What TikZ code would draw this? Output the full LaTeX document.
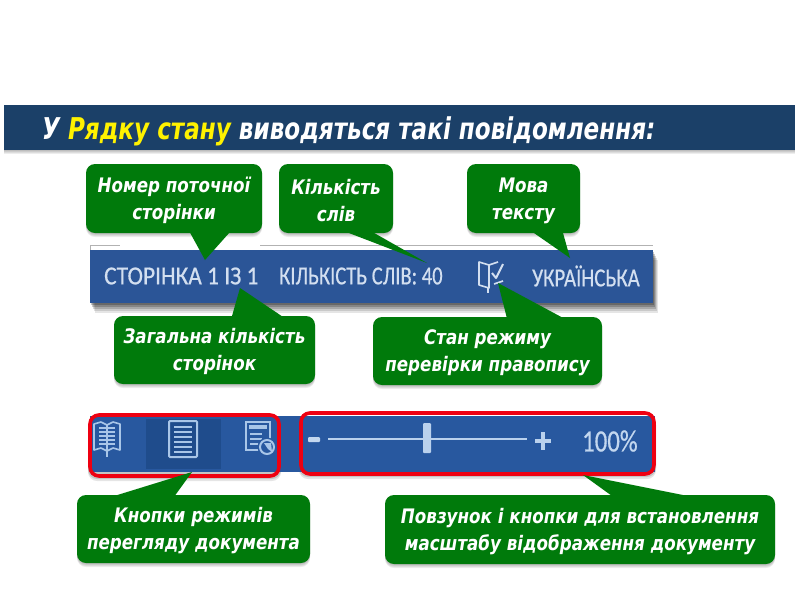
\documentclass[tikz,border=0pt]{standalone}
\usepackage{fontspec}
\setmainfont{DejaVu Sans}
\newfontfamily\callfont[FakeStretch=0.836]{DejaVu Sans}
\newfontfamily\titlefont[FakeStretch=0.77]{DejaVu Sans}
\newfontfamily\barfont[FakeBold=0.6]{Carlito}
\usetikzlibrary{calc}
\definecolor{titlebar}{HTML}{1B4068}
\definecolor{barblue}{HTML}{2B5597}
\definecolor{barblueb}{HTML}{28589F}
\definecolor{bardark}{HTML}{1F4C8C}
\definecolor{callgreen}{HTML}{007A0B}
\definecolor{barlight}{HTML}{D3DFF0}
\definecolor{iconlight}{HTML}{A9C6E8}
\definecolor{markred}{HTML}{EE0011}
\tikzset{
  softshadow/.style={
    preaction={fill=black,fill opacity=.07,transform canvas={yshift=-1pt}},
    preaction={fill=black,fill opacity=.07,transform canvas={yshift=-2pt}},
    preaction={fill=black,fill opacity=.07,transform canvas={yshift=-3pt}},
    preaction={fill=black,fill opacity=.07,transform canvas={yshift=-4pt}}},
  deepshadow/.style={
    preaction={fill=black,fill opacity=.10,transform canvas={xshift=5pt,yshift=-10pt}},
    preaction={fill=black,fill opacity=.12,transform canvas={xshift=4pt,yshift=-8pt}},
    preaction={fill=black,fill opacity=.16,transform canvas={xshift=3pt,yshift=-6pt}},
    preaction={fill=black,fill opacity=.20,transform canvas={xshift=2pt,yshift=-4pt}},
    preaction={fill=black,fill opacity=.22,transform canvas={xshift=1pt,yshift=-2pt}}},
  callbox/.style={rectangle,rounded corners=9pt,fill=callgreen,text=white,align=center,
    inner sep=0pt,font=\callfont\fontsize{20}{27}\selectfont\bfseries\itshape,softshadow},
  calltail/.style={fill=callgreen},
  barlabel/.style={text=barlight,font=\barfont\fontsize{26}{28}\selectfont,inner sep=0pt,anchor=west},
  redmark/.style={draw=markred,line width=3.6pt,rounded corners=9pt},
  iconline/.style={draw=iconlight,line width=1.6pt},
}
\newcommand{\callout}[7]{% name, x0,y0,x1,y1, tip-name, text
  \node[callbox,minimum width=#4pt-#2pt,minimum height=#5pt-#3pt] (#1) at ({(#2+#4)/2},{(#3+#5)/2}) {\rule{0pt}{19pt}#7};
}
\begin{document}
\begin{tikzpicture}[x=1pt,y=-1pt]
\useasboundingbox (0,0) rectangle (800,600);
\fill[white] (0,0) rectangle (800,600);
% title
\node[rectangle,fill=titlebar,minimum width=791pt,minimum height=45pt,inner sep=0pt,softshadow] (title) at (399.5,127.5) {};
\node[anchor=base west,inner sep=0pt,text=white,font=\titlefont\fontsize{30}{31}\selectfont\bfseries\itshape] (titletext) at (42,139)
  {У \textcolor{yellow}{Рядку стану} виводяться такі повідомлення:};
% upper status bar
\draw[gray!60,line width=.8pt] (90,250) -- (90,245) -- (120,245) (260,245) -- (653,245);
\node[rectangle,fill=barblue,minimum width=563pt,minimum height=53pt,inner sep=0pt,deepshadow] (bar1) at (371.5,276.5) {};
\node[barlabel] (pg) at (104,276) {\scalebox{.9}[1]{СТОРІНКА 1 ІЗ 1}};
\node[barlabel] (wc) at (279,276) {\scalebox{.79}[1]{КІЛЬКІСТЬ СЛІВ: 40}};
\node[barlabel] (lg) at (532,276) {\scalebox{.8}[1]{УКРАЇНСЬКА}};
% spell icon
\draw[barlight,line width=1.6pt,line join=round] (489,265) -- (479,262) -- (479,285) -- (489,288) -- (489,265) -- (498,262);
\draw[barlight,line width=1.6pt,line join=round] (488,288) -- (488,293);
\draw[barlight,line width=2pt,line join=round] (492,273) -- (496,278) -- (503,264);
\draw[barlight,line width=1.6pt] (494,284) -- (503,281);
% lower status bar
\fill[black,fill opacity=.10,rounded corners=9pt] (88,418) rectangle (281,481);
\fill[black,fill opacity=.14,rounded corners=9pt] (88,418) rectangle (281,479);
\fill[black,fill opacity=.10,rounded corners=9pt] (299,416) rectangle (656,479);
\fill[black,fill opacity=.14,rounded corners=9pt] (299,416) rectangle (656,477);
\node[rectangle,fill=barblueb,minimum width=565pt,minimum height=56pt,inner sep=0pt] (bar2) at (372.5,444) {};
\fill[bardark] (146,419) rectangle (221,469);
% book icon
\draw[iconline,line join=round] (107,425) -- (101,422) -- (94,424) -- (94,450) -- (101,448) -- (107,451) -- (113,448) -- (120,450) -- (120,424) -- (113,422) -- cycle;
\draw[iconline] (107,425) -- (107,457);
\foreach \yy in {428,432,436,440,444}{\draw[iconline,line width=1.3pt] (99,\yy) -- (115,\yy);}
% page icon
\draw[iconline,rounded corners=1pt,line width=2pt] (169,421) rectangle (197,457);
\foreach \yy in {427,432,437,442,447,452}{\draw[iconline,line width=1.4pt] (174,\yy) -- (192,\yy);}
% web icon
\draw[iconline] (246,422) rectangle (270,450);
\fill[iconlight] (249,425) rectangle (267,429);
\foreach \yy in {434,439,444}{\draw[iconline,line width=1.3pt] (250,\yy) -- (262,\yy);}
\fill[barblueb] (267,447) circle (9.5);
\draw[iconlight,line width=2pt] (267,447) circle (7);
\fill[iconlight] (264,443) -- (271,443) -- (272,452) -- (268,449) -- cycle;
% slider
\fill[iconlight!70!white,rounded corners=1pt] (308,437) rectangle (320,442);
\draw[iconlight!80!white,line width=2pt] (328,438.5) -- (527,438.5);
\fill[iconlight!80!white,rounded corners=1pt] (423,423) rectangle (431,453);
\draw[iconlight!80!white,line width=4pt] (535,441) -- (551,441) (543,432) -- (543,450);
\node[text=iconlight!70!white,inner sep=0pt,anchor=west,font=\barfont\fontsize{31}{32}\selectfont] (zoomv) at (582,441) {\scalebox{.8}[1]{100\%}};
% red frames
\node[rectangle,redmark,minimum width=189pt,minimum height=61pt,inner sep=0pt] (frameA) at (184.5,445.5) {};
\node[rectangle,redmark,minimum width=353pt,minimum height=61pt,inner sep=0pt] (frameB) at (477.5,443.5) {};
% callouts
\callout{c1}{86}{164}{262}{233}{t1}{Номер поточної\\сторінки}
\callout{c2}{279}{164}{393}{233}{t2}{Кількість\\слів}
\callout{c3}{467}{164}{580}{233}{t3}{Мова\\тексту}
\callout{c4}{114}{316}{315}{384}{t4}{Загальна кількість\\сторінок}
\callout{c5}{373}{317}{602}{385}{t5}{Стан режиму\\перевірки правопису}
\callout{c6}{77}{495}{310}{563}{t6}{Кнопки режимів\\перегляду документа}
\callout{c7}{385}{495}{775}{564}{t7}{Повзунок і кнопки для встановлення\\масштабу відображення документу}
% tails
\coordinate (t1) at (205,260);
\coordinate (t2) at (427,263);
\coordinate (t3) at (570,258);
\coordinate (t4) at (240,288);
\coordinate (t5) at (498,283);
\coordinate (t6) at (192,472);
\coordinate (t7) at (583,475);
\fill[calltail] ($(c1.south west)+(104,-1)$) -- (t1) -- ($(c1.south west)+(144,-1)$) -- cycle;
\fill[calltail] ($(c2.south west)+(68,-1)$) -- (t2) -- ($(c2.south west)+(94,-1)$) -- cycle;
\fill[calltail] ($(c3.south west)+(66,-1)$) -- (t3) -- ($(c3.south west)+(96,-1)$) -- cycle;
\fill[calltail] ($(c4.north west)+(118,1)$) -- (t4) -- ($(c4.north west)+(169,1)$) -- cycle;
\fill[calltail] ($(c5.north west)+(134,1)$) -- (t5) -- ($(c5.north west)+(190,1)$) -- cycle;
\fill[calltail] ($(c6.north west)+(38,1)$) -- (t6) -- ($(c6.north west)+(98,1)$) -- cycle;
\fill[calltail] ($(c7.north west)+(227,1)$) -- (t7) -- ($(c7.north west)+(302,1)$) -- cycle;
\end{tikzpicture}
\end{document}
